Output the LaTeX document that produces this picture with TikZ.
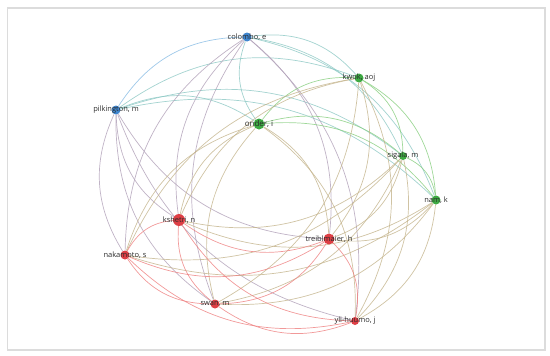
\documentclass[tikz,border=0pt]{standalone}
\usepackage{fontspec}
\setmainfont{Open Sans}
\usetikzlibrary{backgrounds,calc}
\definecolor{nblue}{HTML}{3F86CF}
\definecolor{ngreen}{HTML}{3DAA43}
\definecolor{nred}{HTML}{DE3F45}
\definecolor{ebb}{HTML}{86BBE4}
\definecolor{egg}{HTML}{86CE7E}
\definecolor{err}{HTML}{EE8080}
\definecolor{ebg}{HTML}{8CC8C4}
\definecolor{ebr}{HTML}{B0A0B8}
\definecolor{egr}{HTML}{C4B48C}
\definecolor{framecol}{HTML}{DCDCDC}
\definecolor{labcol}{HTML}{2A2A2A}
\newcommand\lnk[3]{%
  \draw[#3] let \p1=(#1.center), \p2=(#2.center), \p3=(ctr),
    \n1={atan2(\y2-\y1,\x2-\x1)},
    \n2={-sign((-(\y2-\y1)/100)*((\x3-(\x1+\x2)/2)/100)+((\x2-\x1)/100)*((\y3-(\y1+\y2)/2)/100))},
    \n3={\n1+\n2*28},
    \n4={\n1+180-\n2*28}
  in (#1) to[out=\n3, in=\n4] (#2);}
\begin{document}
\begin{tikzpicture}[x=1pt,y=-1pt,
  dot/.style={circle, inner sep=0pt, minimum size=#1},
  bdot/.style={dot=#1, fill=nblue},
  gdot/.style={dot=#1, fill=ngreen},
  rdot/.style={dot=#1, fill=nred},
  lab/.style={text=labcol, font=\fontsize{7.5}{9}\selectfont, inner sep=0pt},
  edge/.style={line width=0.7pt, opacity=0.8},
  bb/.style={edge, draw=ebb},
  gg/.style={edge, draw=egg},
  rr/.style={edge, draw=err},
  bg/.style={edge, draw=ebg},
  br/.style={edge, draw=ebr},
  gr/.style={edge, draw=egr}]
\useasboundingbox (0,0) rectangle (550,356);
\draw[framecol, line width=1.2pt] (7.5,8) rectangle (545,350);
\coordinate (ctr) at (275,190);
% nodes
\node[bdot=9pt] (co) at (247,37) {};
\node[bdot=9pt] (pi) at (116,110) {};
\node[gdot=11pt] (on) at (259,124) {};
\node[gdot=9pt] (kw) at (359,78) {};
\node[gdot=8pt] (si) at (403,156) {};
\node[gdot=9pt] (na) at (436,200) {};
\node[rdot=12pt] (ks) at (179,220) {};
\node[rdot=11pt] (tr) at (329,239) {};
\node[rdot=9pt] (nk) at (125,255) {};
\node[rdot=9pt] (sw) at (215,304) {};
\node[rdot=8pt] (yl) at (355,321) {};
% labels
\node[lab] (lco) at (co) {colombo, e};
\node[lab] (lpi) at (pi) {pilkington, m};
\node[lab, font=\fontsize{8}{9}\selectfont] (lon) at (on) {onder, i};
\node[lab] (lkw) at (kw) {kwok, aoj};
\node[lab] (lsi) at (si) {sigala, m};
\node[lab] (lna) at (na) {nam, k};
\node[lab] (lks) at (ks) {kshetri, n};
\node[lab] (ltr) at (tr) {treiblmaier, h};
\node[lab] (lnk) at (nk) {nakamoto, s};
\node[lab] (lsw) at (sw) {swan, m};
\node[lab] (lyl) at (yl) {yli-huumo, j};
\begin{pgfonlayer}{background}
\lnk{pi}{co}{bb}
\lnk{co}{on}{bg}\lnk{co}{kw}{bg}\lnk{co}{si}{bg}\lnk{co}{na}{bg}
\lnk{pi}{on}{bg}\lnk{pi}{kw}{bg}\lnk{pi}{si}{bg}\lnk{pi}{na}{bg}
\lnk{co}{ks}{br}\lnk{co}{tr}{br}\lnk{co}{nk}{br}\lnk{co}{sw}{br}\lnk{co}{yl}{br}
\lnk{pi}{ks}{br}\lnk{pi}{tr}{br}\lnk{pi}{nk}{br}\lnk{pi}{sw}{br}\lnk{pi}{yl}{br}
\lnk{on}{kw}{gg}\lnk{on}{si}{gg}\lnk{on}{na}{gg}\lnk{kw}{si}{gg}\lnk{kw}{na}{gg}\lnk{si}{na}{gg}
\lnk{on}{ks}{gr}\lnk{on}{tr}{gr}\lnk{on}{nk}{gr}\lnk{on}{sw}{gr}\lnk{on}{yl}{gr}
\lnk{kw}{ks}{gr}\lnk{kw}{tr}{gr}\lnk{kw}{nk}{gr}\lnk{kw}{sw}{gr}\lnk{kw}{yl}{gr}
\lnk{si}{ks}{gr}\lnk{si}{tr}{gr}\lnk{si}{nk}{gr}\lnk{si}{sw}{gr}\lnk{si}{yl}{gr}
\lnk{na}{ks}{gr}\lnk{na}{tr}{gr}\lnk{na}{nk}{gr}\lnk{na}{sw}{gr}\lnk{na}{yl}{gr}
\lnk{ks}{tr}{rr}\lnk{ks}{nk}{rr}\lnk{ks}{sw}{rr}\lnk{ks}{yl}{rr}
\lnk{tr}{nk}{rr}\lnk{tr}{sw}{rr}\lnk{tr}{yl}{rr}
\lnk{nk}{sw}{rr}\lnk{nk}{yl}{rr}\lnk{sw}{yl}{rr}
\end{pgfonlayer}
\end{tikzpicture}
\end{document}
